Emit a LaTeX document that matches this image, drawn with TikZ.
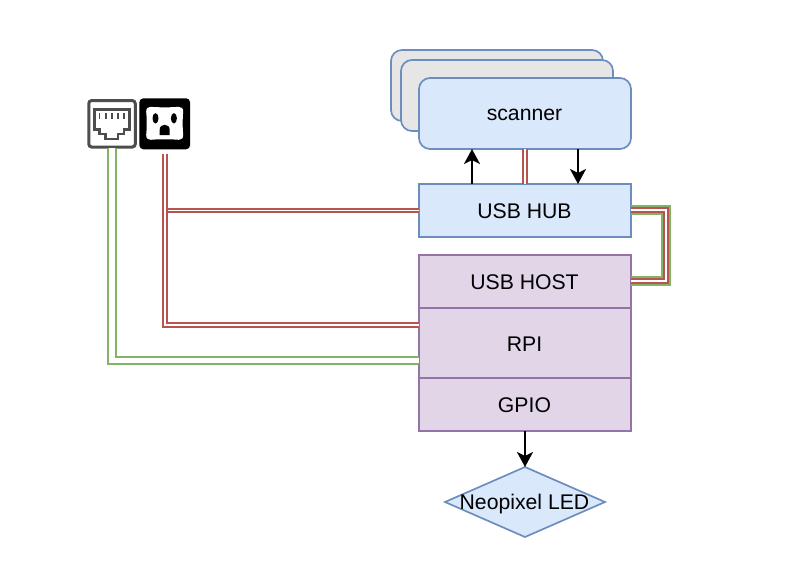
\documentclass[tikz,border=0pt]{standalone}
\usepackage{fontspec}
\setmainfont{Liberation Sans}
\usetikzlibrary{arrows.meta,shapes.geometric,calc}
\definecolor{blueline}{HTML}{6C8EBF}
\definecolor{bluefill}{HTML}{DAE8FC}
\definecolor{purpleline}{HTML}{9673A6}
\definecolor{purplefill}{HTML}{E1D5E7}
\definecolor{greyfill}{HTML}{E6E6E6}
\definecolor{redline}{HTML}{B85450}
\definecolor{greenline}{HTML}{82B366}
\definecolor{icongrey}{HTML}{4D4D4D}
\newcommand{\boxtext}[2]{\makebox[0pt][c]{\raisebox{#1}[0pt][0pt]{#2\hspace{1pt}}}}
\tikzset{
  base/.style={draw,line width=1.7pt,inner sep=0pt,outer sep=0pt,font=\fontsize{21.2}{25}\selectfont},
  bluebox/.style={base,draw=blueline,fill=bluefill,minimum width=212pt},
  purplebox/.style={base,draw=purpleline,fill=purplefill,minimum width=212pt},
  scannerbox/.style={base,draw=blueline,rounded corners=11pt,minimum width=212pt,minimum height=71pt},
  redlink/.style={draw=redline,double=white,line width=1.8pt,double distance=1.9pt,line join=miter},
  greenlink/.style={draw=greenline,double=white,line width=2pt,double distance=5.3pt,line join=miter},
  widegreen/.style={draw=greenline,double=white,line width=2.2pt,double distance=6pt,line join=miter},
  flow/.style={draw=black,line width=1.8pt,-{Stealth[length=15pt,width=16pt,inset=4pt]}},
}
\begin{document}
\begin{tikzpicture}[x=1pt,y=-1pt]
\useasboundingbox (0,0) rectangle (807,574);
% scanners
\node[scannerbox,fill=greyfill] (scannerC) at (497,85.5) {};
\node[scannerbox,fill=greyfill] (scannerB) at (507,95.5) {};
\node[scannerbox,fill=bluefill] (scanner) at (525,113.5) {\boxtext{-7pt}{scanner}};
% boxes
\node[bluebox,minimum height=53pt] (hub) at (525,210.5) {\boxtext{-8pt}{USB HUB}};
\node[purplebox,minimum height=53pt] (host) at (525,281.5) {\boxtext{-8pt}{USB HOST}};
\node[purplebox,minimum height=70pt] (rpi) at (525,343) {\boxtext{-8pt}{RPI}};
\node[purplebox,minimum height=53pt] (gpio) at (525,404.5) {\boxtext{-8pt}{GPIO}};
\node[base,draw=blueline,fill=bluefill,diamond,minimum width=160pt,minimum height=70pt] (led) at (525,502)
  {\boxtext{-7.5pt}{Neopixel LED}};
% icons
\node[draw=icongrey,line width=3pt,rounded corners=3pt,fill=white,minimum size=46.5pt,inner sep=0pt,outer sep=1.5pt] (ether) at (112,123.8) {};
\node[fill=black,rounded corners=4pt,minimum width=50.7pt,minimum height=51pt,inner sep=0pt,outer sep=0pt] (power) at (164.7,123.8) {};
\begin{scope}[shift={(ether.center)}]
  \draw[icongrey,line width=2.6pt,line join=miter]
    (-17.5,-14.5) -- (17.5,-14.5) -- (17.5,5.5) -- (12,5.5) -- (12,10) -- (6,10) -- (6,15) -- (-6.5,15) -- (-6.5,10) -- (-12.5,10) -- (-12.5,5.5) -- (-17.5,5.5) -- cycle;
  \foreach \x in {-12.5,-6.3,0,6,12}
    \draw[icongrey,line width=1.9pt] (\x,-10.5) -- (\x,-4.5);
\end{scope}
\begin{scope}[shift={(power.center)}]
  \fill[white] (-14,-17) .. controls (-7,-16.3) and (7,-16.3) .. (14,-17)
    .. controls (17,-17) and (18.5,-15.5) .. (18.5,-12)
    .. controls (17.8,-5) and (17.8,4) .. (18.5,11)
    .. controls (18.5,14.5) and (17,16) .. (14,16)
    .. controls (7,15.3) and (-7,15.3) .. (-14,16)
    .. controls (-17,16) and (-18.5,14.5) .. (-18.5,11)
    .. controls (-17.8,4) and (-17.8,-5) .. (-18.5,-12)
    .. controls (-18.5,-15.5) and (-17,-17) .. (-14,-17) -- cycle;
  \fill[black] (-9.2,-5.5) ellipse [x radius=3pt,y radius=5.2pt];
  \fill[black] (9.2,-5.5) ellipse [x radius=3pt,y radius=5.2pt];
  \fill[black] (-5,11.2) -- (-5,6) .. controls (-5,2.5) and (-2.5,1) .. (0,1)
    .. controls (2.5,1) and (5,2.5) .. (5,6) -- (5,11.2) -- cycle;
\end{scope}
% free ends and link routes
\coordinate (powerout) at (165,154);
\coordinate (etherout) at (112,148);
\coordinate (rightup) at (666.2,210.2);
\coordinate (rightdown) at (666.2,281.2);
% green links
\draw[greenlink] (etherout) -- (etherout |- 0,360.5) -- (rpi.west |- 0,360.5);
\draw[widegreen] (hub.east |- rightup) -- (rightup) -- (rightdown) -- (host.east |- rightdown);
% red links
\draw[redlink] (hub.east |- rightup) -- (rightup) -- (rightdown) -- (host.east |- rightdown);
\draw[redlink] (powerout) -- (powerout |- hub.west) -- (hub.west);
\draw[redlink] (powerout) -- (powerout |- 0,325) -- (rpi.west |- 0,325);
\draw[redlink] (scanner.south) -- (hub.north);
% arrows
\draw[flow] (hub.north -| 472,0) -- (scanner.south -| 472,0);
\draw[flow] (scanner.south -| 578,0) -- (hub.north -| 578,0);
\draw[flow] (gpio.south) -- (led.north);
\end{tikzpicture}
\end{document}
